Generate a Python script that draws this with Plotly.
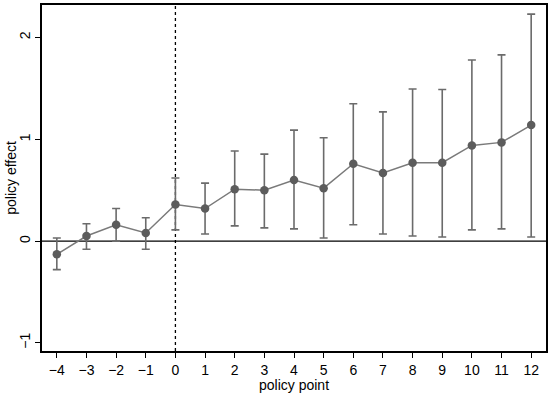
import plotly.graph_objects as go

periods = [-4, -3, -2, -1, 0, 1, 2, 3, 4, 5, 6, 7, 8, 9, 10, 11, 12]
effect = [-0.13, 0.05, 0.16, 0.08, 0.36, 0.32, 0.51, 0.50, 0.60, 0.52, 0.76, 0.67, 0.77, 0.77, 0.94, 0.97, 1.14]
ci_upper = [0.03, 0.17, 0.32, 0.23, 0.62, 0.57, 0.885, 0.855, 1.09, 1.015, 1.35, 1.27, 1.495, 1.49, 1.78, 1.83, 2.23]
ci_lower = [-0.28, -0.08, 0.00, -0.08, 0.11, 0.07, 0.15, 0.13, 0.12, 0.03, 0.16, 0.07, 0.05, 0.04, 0.11, 0.12, 0.04]
x_ticks = list(range(-4, 13))
y_ticks = [-1, 0, 1, 2]

err_plus = [u - e for u, e in zip(ci_upper, effect)]
err_minus = [e - l for e, l in zip(effect, ci_lower)]

fig = go.Figure()
fig.add_trace(go.Scatter(
    x=periods, y=effect, mode="lines+markers",
    line=dict(color="#7a7a7a", width=1.5),
    marker=dict(color="#5c5c5c", size=8.5),
    error_y=dict(type="data", symmetric=False, array=err_plus, arrayminus=err_minus,
                 color="#6b6b6b", thickness=1.6, width=4),
    showlegend=False,
))

fig.add_shape(type="line", xref="paper", x0=0, x1=1, yref="y", y0=0, y1=0,
              line=dict(color="black", width=1.2), layer="below")
fig.add_shape(type="line", xref="x", x0=0, x1=0, yref="paper", y0=0, y1=1,
              line=dict(color="black", width=1.3, dash="3px,3px"), layer="below")

fig.add_annotation(text="policy point", xref="paper", yref="paper", x=0.5, y=-0.097,
                   xanchor="center", yanchor="middle", showarrow=False, font=dict(size=14))
fig.add_annotation(text="policy effect", xref="paper", yref="paper", x=-0.062, y=0.5,
                   xanchor="center", yanchor="middle", textangle=-90, showarrow=False,
                   font=dict(size=14))

fig.update_layout(
    width=550, height=394,
    margin=dict(l=42, r=4, t=5, b=43),
    paper_bgcolor="white", plot_bgcolor="white",
    font=dict(family="Liberation Sans, Arial, sans-serif", color="black", size=14),
)
fig.update_xaxes(
    range=[-4.5, 12.5], tickvals=x_ticks, ticks="outside", ticklen=5, tickwidth=1.2,
    tickcolor="black", showgrid=False, zeroline=False,
    showline=True, linecolor="black", linewidth=1.5, mirror=True,
    tickfont=dict(size=14), automargin=False,
)
fig.update_yaxes(
    range=[-1.08, 2.32], tickvals=y_ticks, ticktext=["\u22121", "0", "1", "2"],
    ticks="outside", ticklen=5, tickwidth=1.2, tickcolor="black", tickangle=-90,
    showgrid=False, zeroline=False,
    showline=True, linecolor="black", linewidth=1.5, mirror=True,
    tickfont=dict(size=14), automargin=False,
)

fig.write_html("out.html", config={"displayModeBar": False},
               post_script="document.body.style.margin='0';")
